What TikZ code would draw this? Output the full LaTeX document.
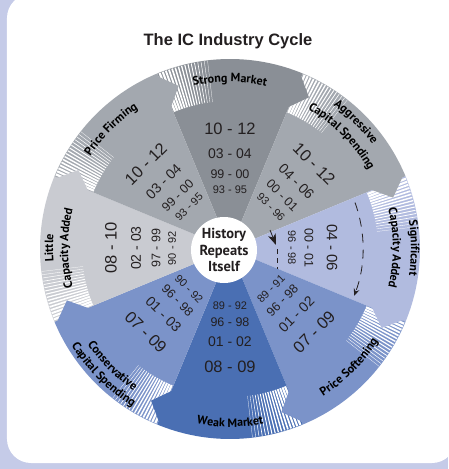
\documentclass[tikz,border=0pt]{standalone}
\usepackage{fontspec}
\setmainfont{Liberation Sans}
\newfontfamily\labelfont{PT Sans}
\usetikzlibrary{decorations.text, arrows.meta}

\definecolor{bgblue}{HTML}{C5CBE8}
\definecolor{strongc}{HTML}{8A8F96}
\definecolor{midgray}{HTML}{A3A8AF}
\definecolor{littlec}{HTML}{C9CBD1}
\definecolor{signifc}{HTML}{B1BBDF}
\definecolor{softc}{HTML}{7B93C9}
\definecolor{weakc}{HTML}{4A6FB3}
\definecolor{ink}{HTML}{231F20}

\newcommand\bandfont{\labelfont\bfseries\fontsize{12}{14}\selectfont}

\tikzset{
  years/.style={font=\fontsize{#1}{#1}\selectfont, text=ink, inner sep=0pt},
  bandtext/.style={decorate, decoration={text along path, text align=center,
      text={|\bandfont|#1}}},
}

\begin{document}
\begin{tikzpicture}[x=1pt, y=1pt]
  \useasboundingbox (-230,-221) rectangle (218,248);

  % Frame
  \fill [bgblue] (-230,-221) rectangle (218,248);
  \fill [white, rounded corners=24pt] (-223,-215) rectangle (226,254);

  % Title
  \node [font=\bfseries\fontsize{16.5}{20}\selectfont, text=ink, anchor=base] (title) at (-2,202) {The IC Industry Cycle};

  % Sectors
  \foreach \ang/\col in {90/strongc, 45/midgray, 0/signifc, -45/softc, -90/weakc, -135/softc, 180/littlec, 135/midgray}
    \fill [\col] (0,-1) -- ++(\ang+22.5:190) arc [start angle=\ang+22.5, end angle=\ang-22.5, radius=190] -- cycle;

  % Fading stripes at the start of each band
  \foreach \ang in {90, 45, 0, -45, -90, -135, 180, 135}
    \foreach \i in {0,...,15}
      \draw [white, line width={(2.2-0.13*\i)*1pt}] ([shift={(0,-1)}]\ang+21.8-\i:148) -- ([shift={(0,-1)}]\ang+21.8-\i:189.5);

  % Arrow tips
  \foreach \ang/\col in {90/strongc, 45/midgray, 0/signifc, -45/softc, -90/weakc, -135/softc, 180/littlec, 135/midgray}
    \fill [\col] ([shift={(0,-1)}]\ang-21.5:151) -- ([shift={(0,-1)}]\ang-27.5:171) -- ([shift={(0,-1)}]\ang-21.5:190) -- cycle;

  % Years
  \foreach \ang/\rot/\ya/\yb/\yc/\yd in {90/0/10 - 12/03 - 04/99 - 00/93 - 95,
      45/-45/10 - 12/04 - 06/00 - 01/93 - 96,
      -45/45/07 - 09/01 - 02/96 - 98/89 - 91,
      -90/0/08 - 09/01 - 02/96 - 98/89 - 92,
      -135/-45/07 - 09/01 - 03/96 - 98/90 - 92,
      180/90/08 - 10/02 - 03/97 - 99/90 - 92,
      135/45/10 - 12/03 - 04/99 - 00/93 - 95} {
    \node [years=16.5, rotate=\rot] (y\ang a) at (\ang:119) {\ya};
    \node [years=14, rotate=\rot] (y\ang b) at (\ang:94) {\yb};
    \node [years=12.5, rotate=\rot] (y\ang c) at (\ang:74) {\yc};
    \node [years=11, rotate=\rot] (y\ang d) at (\ang:58) {\yd};
  }
  \node [years=15, rotate=-90] (y0a) at (0:102) {04 - 06};
  \node [years=12.5, rotate=-90] (y0b) at (0:79) {00 - 01};
  \node [years=11, rotate=-90] (y0c) at (0:62) {96 - 98};

  % Band labels
  \path [bandtext={Strong Market}] (120:166) arc [start angle=120, end angle=60, radius=166];
  \path [bandtext={Aggressive}] (75:176) arc [start angle=75, end angle=15, radius=176];
  \path [bandtext={Capital Spending}] (75:159) arc [start angle=75, end angle=15, radius=159];
  \path [bandtext={Significant}] (30:181) arc [start angle=30, end angle=-30, radius=181];
  \path [bandtext={Capacity Added}] (30:163) arc [start angle=30, end angle=-30, radius=163];
  \path [bandtext={Price Softening}] (-75:175) arc [start angle=-75, end angle=-15, radius=175];
  \path [bandtext={Weak Market}] (-120:179) arc [start angle=-120, end angle=-60, radius=179];
  \path [bandtext={Conservative}] (-165:172) arc [start angle=-165, end angle=-105, radius=172];
  \path [bandtext={Capital Spending}] (-165:186) arc [start angle=-165, end angle=-105, radius=186];
  \path [bandtext={Little}] (210:177) arc [start angle=210, end angle=150, radius=177];
  \path [bandtext={Capacity Added}] (210:162) arc [start angle=210, end angle=150, radius=162];
  \path [bandtext={Price Firming}] (165:167) arc [start angle=165, end angle=105, radius=167];

  % Hub
  \node [circle, fill=white, minimum size=66pt, inner sep=0pt, align=center, text=ink,
    font=\labelfont\bfseries\fontsize{14.5}{16.5}\selectfont] (hub) at (-6,-2) {History\\Repeats\\Itself};

  % Dashed arrows
  \coordinate (outA) at (20:133);
  \draw [ink, thick, dash pattern=on 9pt off 7pt, -{Stealth[length=7pt, width=6pt, inset=2.5pt]}] (outA) arc [start angle=20, end angle=-21, radius=133];
  \coordinate (inTop) at (40,18);
  \coordinate (inTip) at (46,3);
  \coordinate (inA) at (47,-1);
  \coordinate (inB) at (47,-21);
  \draw [ink, thick, -{Stealth[length=11pt, width=8pt, inset=3pt]}] (inTop) -- (inTip);
  \draw [ink, thick, dash pattern=on 5pt off 4pt] (inA) -- (inB);
\end{tikzpicture}
\end{document}
